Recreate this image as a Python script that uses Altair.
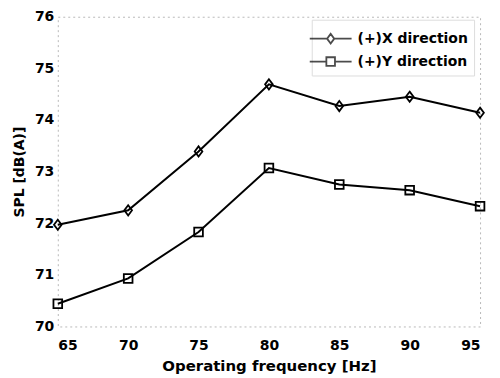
import altair as alt
import pandas as pd

freq = [65, 70, 75, 80, 85, 90, 95]
x_dir = [71.97, 72.25, 73.39, 74.69, 74.27, 74.45, 74.14]
y_dir = [70.44, 70.93, 71.83, 73.07, 72.75, 72.64, 72.33]
series = ["(+)X direction", "(+)Y direction"]

rows = []
for f, a, b in zip(freq, x_dir, y_dir):
    rows.append({"freq": f, "spl": a, "series": series[0]})
    rows.append({"freq": f, "spl": b, "series": series[1]})
df = pd.DataFrame(rows)

FONT = "DejaVu Sans"

diamond = "M0,-1L0.75,0L0,1L-0.75,0Z"
square = "M-0.85,-0.85H0.85V0.85H-0.85Z"
leg_diamond = "M-1.75,0H-0.3M0.3,0H1.75M0,-0.4L0.3,0L0,0.4L-0.3,0Z"
leg_square = "M-1.75,0H-0.36M0.36,0H1.75M-0.36,-0.36H0.36V0.36H-0.36Z"

x_enc = alt.X("freq:Q", scale=alt.Scale(domain=[65, 95], nice=False),
              axis=alt.Axis(values=freq, title="Operating frequency [Hz]"))
y_enc = alt.Y("spl:Q", scale=alt.Scale(domain=[70, 76], nice=False),
              axis=alt.Axis(values=[70, 71, 72, 73, 74, 75, 76], title="SPL [dB(A)]"))

lines = alt.Chart(df).mark_line(color="black", strokeWidth=2).encode(
    x=x_enc, y=y_enc, detail="series:N")

points = alt.Chart(df).mark_point(filled=False, color="black", strokeWidth=1.8, size=105, opacity=1).encode(
    x=x_enc, y=y_enc,
    shape=alt.Shape("series:N", scale=alt.Scale(domain=series, range=[diamond, square]), legend=None))

legend_layer = alt.Chart(df).mark_point(filled=False, color="black", strokeWidth=1.8, size=0).encode(
    x=x_enc, y=y_enc,
    shape=alt.Shape("series:N", title=None,
                    scale=alt.Scale(domain=series, range=[leg_diamond, leg_square]),
                    legend=alt.Legend(orient="none", legendX=255, legendY=3,
                                      symbolSize=576, symbolStrokeWidth=1.8,
                                      symbolStrokeColor="black",
                                      labelFont=FONT, labelFontSize=14,
                                      labelFontWeight="bold", labelColor="black",
                                      rowPadding=1, labelOffset=14,
                                      strokeColor="#dddddd",
                                      padding=6)))

chart = alt.layer(lines, points, legend_layer).resolve_scale(shape="independent").properties(
    width=424, height=311,
    autosize=alt.AutoSizeParams(type="none"),
    padding={"left": 50, "top": 8, "right": 12, "bottom": 56},
).configure_view(
    stroke="#b8b8b8", strokeDash=[2, 3], strokeWidth=1
).configure_axis(
    labelFont=FONT, labelFontSize=14, labelFontWeight="bold", labelColor="black",
    titleFont=FONT, titleFontWeight="bold", titleColor="black",
    grid=False, domain=False, ticks=False,
).configure_axisY(
    labelPadding=4, titlePadding=8, titleFontSize=14
).configure_axisX(
    labelPadding=12, titlePadding=6, titleFontSize=15
)

chart.save("out.html", embed_options={"renderer": "svg", "actions": False})
